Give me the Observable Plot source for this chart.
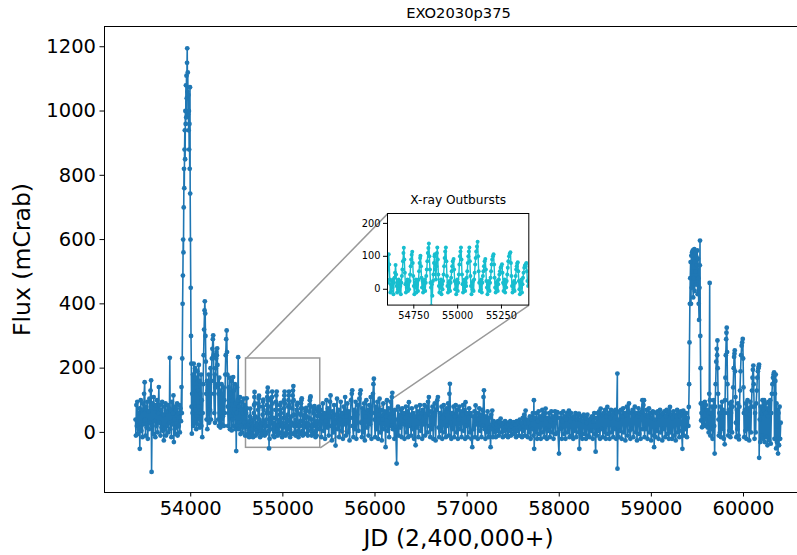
<!DOCTYPE html>
<html>
<head>
<meta charset="utf-8">
<script src="https://cdn.jsdelivr.net/npm/d3@7"></script>
<script src="https://cdn.jsdelivr.net/npm/@observablehq/plot@0.6"></script>
<style>
  html, body { margin: 0; padding: 0; background: #fff; overflow: hidden; }
  #chart { position: relative; width: 797px; height: 555px; overflow: hidden; }
  #chart svg { position: absolute; max-width: none; }
</style>
</head>
<body>
<div id="chart"></div>
<script>
// Text
const title = "EXO2030p375";
const insetTitle = "X-ray Outbursts";
const xLabel = "JD (2,400,000+)";
const yLabel = "Flux (mCrab)";

// Tick values
const xTicks = [54000, 55000, 56000, 57000, 58000, 59000, 60000];
const yTicks = [0, 200, 400, 600, 800, 1000, 1200];
const insetXTicks = [54750, 55000, 55250];
const insetYTicks = [0, 100, 200];

// Zoomed window shown in the inset (JD, mCrab)
const zoomJD = [54600, 55406];
const zoomFlux = [-48, 230];

// Light curve, [JD - 2400000, flux in mCrab]
const quiescence2005 = [
  [53401,40],[53405,-10],[53410,85],[53415,20],[53420,95],[53426,-5],[53432,60],[53438,10],[53443,75],[53447,-51],
  [53452,30],[53458,100],[53464,5],[53470,70],[53476,-15],[53482,90],[53488,25],[53494,120],[53500,156],[53505,40],
  [53510,-10],[53516,80],[53522,15],[53528,95],[53534,-20],[53540,65],[53546,10],[53552,105],[53558,30],[53564,130],
  [53570,162],[53575,-123],[53580,20],[53586,90],[53592,-5],[53598,110],[53604,35],[53610,75],[53616,-15],[53622,85],
  [53628,20],[53634,100],[53640,0],[53646,60],[53654,141],[53660,30],[53666,85],[53672,-10],[53678,70],[53684,15],
  [53690,95],[53696,5],[53702,55],[53708,-25],[53714,80],[53720,10],[53726,90],[53732,-10],[53738,65],[53744,20],
  [53750,85],[53756,0],[53762,75],[53768,30],[53773,232],[53778,10],[53784,70],[53790,-15],[53796,95],[53802,25],
  [53808,60],[53812,115],[53817,-30],[53822,40],[53828,80],[53834,-5],[53840,70],[53846,15],[53852,90],[53858,-10],
  [53864,60],[53870,20],[53876,85],[53882,0],[53888,75],[53894,35]
];

const giantOutburst2006 = [
  [53900,141],[53904,60],[53908,230],[53912,400],[53915,488],[53918,600],[53921,560],[53924,700],[53927,820],[53930,760],
  [53933,880],[53936,940],[53939,850],[53942,1000],[53945,960],[53948,1080],[53951,980],[53954,1110],[53957,1040],[53960,1150],
  [53962,1195],[53965,1060],[53968,1120],[53971,990],[53974,1050],[53977,940],[53980,1000],[53983,880],[53986,960],[53989,820],
  [53992,1074],[53994,743],[53997,600],[54000,450],[54003,300],[54006,214],[54009,80],[54012,-4]
];

const decline2007 = [
  [54016,120],[54020,60],[54024,180],[54028,20],[54032,214],[54036,90],[54040,150],[54044,30],[54048,200],[54052,70],
  [54056,170],[54060,10],[54064,140],[54068,50],[54072,190],[54076,25],[54080,130],[54084,80],[54088,210],[54092,40],
  [54096,160],[54100,15],[54104,120],[54108,60],[54112,180],[54116,20],[54120,100],[54125,-15],[54130,60],[54135,150],
  [54140,240],[54145,320],[54150,380],[54153,408],[54157,370],[54160,300],[54164,220],[54168,120],[54172,40],[54176,160],
  [54180,10],[54185,130],[54190,60],[54195,180],[54200,30],[54205,150],[54210,70],[54215,200],[54220,40],[54225,160],
  [54230,230],[54235,260],[54240,290],[54244,302],[54248,240],[54252,120],[54256,60],[54260,180],[54264,30],[54268,140],
  [54272,200],[54276,230],[54280,250],[54284,240],[54287,261],[54290,210],[54294,150],[54298,40],[54302,120],[54306,20],
  [54310,170],[54314,60],[54318,130],[54322,15],[54326,110],[54330,40],[54335,150],[54340,25],[54345,120],[54350,50],
  [54355,140],[54360,20],[54365,100],[54370,60],[54375,180],[54380,240],[54385,290],[54390,317],[54394,250],[54398,180],
  [54402,80],[54406,20],[54410,140],[54415,60],[54420,170],[54425,10],[54430,120],[54435,50],[54440,160],[54445,6],
  [54450,100],[54455,40],[54460,172],[54465,20],[54470,130],[54475,70],[54480,150],[54485,10],[54490,90],[54494,-58],
  [54498,60],[54502,140],[54506,20],[54510,100],[54515,234],[54520,10],[54525,80],[54530,30],[54535,110],[54540,-5],
  [54545,70],[54550,20],[54555,95],[54560,0],[54565,60],[54570,15],[54575,105],[54580,30],[54585,85],[54590,-10],
  [54595,70]
];

const typeIOutbursts2008 = [
  [54600,20],[54603,60],[54607,106],[54610,75],[54613,30],[54616,-10],[54619,15],[54622,-5],[54625,25],[54628,5],
  [54631,30],[54634,-15],[54637,20],[54640,35],[54643,50],[54646,74],[54649,45],[54652,10],[54655,-10],[54658,20],
  [54661,0],[54664,30],[54667,-5],[54670,25],[54673,10],[54676,-15],[54679,20],[54682,40],[54685,60],[54688,85],
  [54691,110],[54693,126],[54696,90],[54699,50],[54702,15],[54705,-10],[54708,20],[54711,5],[54714,30],[54717,-5],
  [54720,20],[54723,0],[54726,25],[54729,45],[54732,70],[54735,90],[54738,105],[54741,114],[54744,80],[54747,40],
  [54750,10],[54753,-15],[54756,20],[54759,5],[54762,30],[54765,-10],[54768,15],[54771,25],[54774,-5],[54777,30],
  [54780,55],[54783,80],[54786,95],[54788,102],[54791,70],[54794,35],[54797,5],[54800,25],[54803,-10],[54806,20],
  [54809,0],[54812,30],[54815,-5],[54818,20],[54821,40],[54824,60],[54827,85],[54830,110],[54833,125],[54836,139],
  [54839,100],[54842,60],[54845,20],[54848,5],[54850,-50],[54853,15],[54856,-20],[54859,25],[54862,45],[54865,80],
  [54868,100],[54870,106],[54873,60],[54876,30],[54879,70],[54882,110],[54884,127],[54887,90],[54890,45],[54893,10],
  [54896,-10],[54899,20],[54902,5],[54905,30],[54908,-15],[54911,15],[54914,0],[54917,25],[54920,45],[54923,70],
  [54926,95],[54929,115],[54933,127],[54936,85],[54939,40],[54942,10],[54945,-10],[54948,20],[54951,0],[54954,25],
  [54957,-5],[54960,20],[54963,35],[54966,55],[54969,70],[54972,85],[54977,92],[54980,60],[54983,25],[54986,0],
  [54989,20],[54992,-15],[54995,15],[54998,30],[55001,-5],[55004,20],[55007,45],[55010,75],[55013,100],[55016,115],
  [55019,127],[55022,90],[55025,45],[55028,15],[55031,-10],[55034,20],[55037,0],[55040,30],[55043,-5],[55046,20],
  [55049,10],[55052,35],[55055,55],[55058,80],[55061,100],[55064,115],[55067,127],[55070,85],[55073,40],[55076,10],
  [55079,-15],[55082,20],[55085,0],[55088,25],[55091,-5],[55094,30],[55097,50],[55100,75],[55103,95],[55106,115],
  [55110,130],[55114,144],[55117,100],[55120,55],[55123,20],[55126,-5],[55129,25],[55132,0],[55135,30],[55138,-10],
  [55141,20],[55144,40],[55147,55],[55150,70],[55154,85],[55158,92],[55161,60],[55164,25],[55167,5],[55170,-15],
  [55173,20],[55176,0],[55179,25],[55182,-5],[55185,20],[55188,35],[55191,55],[55194,75],[55197,90],[55201,100],
  [55205,106],[55208,75],[55211,35],[55214,5],[55217,-10],[55220,20],[55223,0],[55226,25],[55229,-5],[55232,15],
  [55235,30],[55238,45],[55241,55],[55245,65],[55249,70],[55253,76],[55256,50],[55259,20],[55262,-5],[55265,15],
  [55268,30],[55271,-10],[55274,20],[55277,5],[55280,25],[55283,45],[55286,65],[55289,85],[55293,100],[55297,108],
  [55301,112],[55304,80],[55307,40],[55310,10],[55313,-10],[55316,20],[55319,0],[55322,25],[55325,-5],[55328,20],
  [55331,40],[55334,60],[55337,70],[55340,78],[55343,82],[55346,55],[55349,25],[55352,0],[55355,-15],[55358,20],
  [55361,5],[55364,30],[55367,-10],[55370,15],[55373,35],[55376,50],[55380,65],[55384,72],[55388,76],[55392,80],
  [55395,55],[55398,25]
];

const activity2010 = [
  [55402,10],[55410,70],[55418,-15],[55426,45],[55434,90],[55442,5],[55450,60],[55458,-20],[55466,35],[55474,100],
  [55482,15],[55490,75],[55498,-10],[55506,50],[55512,95],[55518,115],[55524,20],[55532,-25],[55540,65],[55548,0],
  [55556,85],[55564,30],[55572,-41],[55580,55],[55588,105],[55596,10],[55604,70],[55612,-15],[55620,40],[55628,95],
  [55636,5],[55644,60],[55652,-20],[55660,80],[55668,25],[55676,110],[55684,-10],[55692,50],[55700,90],[55708,0],
  [55716,65],[55724,-25],[55732,45],[55740,100],[55748,120],[55753,131],[55758,20],[55766,-15],[55774,70],[55782,10],
  [55790,95],[55798,-20],[55806,55],[55814,85],[55822,5],[55830,105],[55838,120],[55844,131],[55850,30],[55858,-15],
  [55866,75],[55874,0],[55882,90],[55890,-25],[55898,50],[55906,100],[55914,15],[55922,70],[55930,-10],[55938,85],
  [55946,25],[55954,110],[55962,-20],[55970,60],[55978,120],[55983,150],[55988,167],[55994,40],[56002,-15],[56010,80],
  [56018,10],[56026,95],[56034,-20],[56042,55],[56050,105],[56058,0],[56066,70],[56074,-25],[56082,40],[56090,90],
  [56098,10],[56106,65],[56115,-46],[56122,50],[56130,100],[56138,5],[56146,75],[56154,-15],[56162,45],[56170,95],
  [56178,20],[56183,110],[56188,123],[56194,10],[56202,60],[56210,-20]
];

const activity2013 = [
  [56218,70],[56226,5],[56235,-97],[56242,40],[56250,80],[56258,-10],[56266,55],[56274,15],[56282,70],[56290,-15],
  [56296,75],[56304,25],[56312,60],[56320,-20],[56328,45],[56336,80],[56344,0],[56352,65],[56360,-15],[56368,94],
  [56376,20],[56384,55],[56392,-10],[56400,75],[56408,10],[56416,60],[56424,-20],[56432,50],[56441,-40],[56448,80],
  [56456,15],[56464,65],[56472,-15],[56480,45],[56488,85],[56496,5],[56504,60],[56512,-20],[56520,70],[56528,25],
  [56536,85],[56544,-10],[56552,50],[56560,80],[56568,0],[56576,95],[56585,110],[56592,20],[56600,-15],[56608,65],
  [56616,10],[56624,80],[56632,-20],[56640,55],[56648,90],[56658,-25],[56666,70],[56676,100],[56683,110],[56690,15],
  [56698,-15],[56706,60],[56714,5],[56722,80],[56730,-20],[56738,45],[56746,85],[56754,0],[56762,65],[56770,-15],
  [56778,75],[56786,20],[56794,90],[56802,-10],[56808,120],[56813,151],[56820,30],[56828,-20],[56836,60],[56844,10],
  [56852,80],[56860,-15],[56868,50],[56876,85],[56884,0],[56892,70],[56900,-20],[56908,40],[56916,80],[56924,10],
  [56932,65],[56940,-15],[56948,55],[56956,85],[56964,5],[56972,70],[56978,-20],[56983,94],[56990,20],
  [56998,60],[57006,-15],[57014,45],[57022,75],[57030,0],[57038,60],[57046,-20],[57056,-46],[57064,50],[57072,10],
  [57080,65],[57086,-15],[57092,84],[57100,25],[57108,60],[57116,-20],[57124,40],[57132,75],[57140,5],[57148,55],
  [57156,-15],[57164,70],[57172,20],[57178,110],[57183,131],[57190,10],[57198,-20],[57206,50],[57214,0],[57222,65],
  [57230,-15],[57238,45],[57246,15],[57255,-46],[57262,55],[57268,10],[57273,68],[57280,-15]
];

const lowState2016 = [
  [57288,35],[57296,0],[57304,30],[57312,-15],[57320,25],[57328,5],[57336,35],[57344,-10],[57352,20],[57358,30],
  [57364,43],[57372,0],[57380,25],[57388,-15],[57396,30],[57404,5],[57412,35],[57420,-10],[57428,20],[57436,30],
  [57444,-15],[57452,25],[57460,5],[57468,35],[57476,-10],[57484,20],[57492,30],[57500,-5],[57508,32],[57516,0],
  [57524,25],[57532,-15],[57540,35],[57548,5],[57556,30],[57564,-10],[57572,40],[57580,10],[57588,30],[57596,-15],
  [57604,45],[57612,5],[57620,55],[57628,-10],[57635,68],[57642,15],[57650,40],[57658,-15],[57666,30],[57674,0],
  [57682,50],[57690,-20],[57698,40],[57706,10],[57714,60]
];

const activity2017 = [
  [57720,-10],[57725,100],[57728,-51],[57736,45],[57744,0],[57752,60],[57760,-20],[57768,35],[57776,65],[57784,-5],
  [57792,50],[57800,-20],[57808,40],[57816,70],[57824,0],[57832,55],[57840,-15],[57846,60],[57852,74],[57858,10],
  [57866,-20],[57874,45],[57882,5],[57890,60],[57898,-15],[57906,35],[57914,65],[57922,0],[57930,50],[57938,-20],
  [57946,40],[57954,65],[57962,-5],[57970,55],[57979,63],[57986,0],[57997,-66],[58004,45],[58012,10],[58020,60],
  [58028,-20],[58036,35],[58044,65],[58052,-5],[58060,50],[58068,-20],[58076,40],[58084,60],[58092,0],[58100,55],
  [58105,68],[58112,-15],[58120,35],[58128,60],[58136,-10],[58144,45],[58152,-20],[58160,50],[58168,5],[58176,60],
  [58184,-15],[58192,40],[58200,55],[58208,0],[58214,58],[58218,-51],[58226,40],[58234,-10],[58242,50],[58250,-20],
  [58258,35],[58266,55],[58274,-5],[58282,45],[58290,-20],[58298,30],[58306,55],[58314,-10],[58322,40],[58330,-15],
  [58341,43],[58348,5],[58356,50],[58364,-20],[58372,35],[58380,60],[58388,-5],[58395,-60],[58402,45]
];

const activity2019 = [
  [58410,-10],[58418,60],[58426,5],[58434,65],[58442,-20],[58450,74],[58458,10],[58466,55],[58474,-15],[58482,60],
  [58490,0],[58498,70],[58506,-20],[58514,50],[58522,79],[58530,-5],[58538,60],[58546,-20],[58554,45],[58562,70],
  [58570,0],[58578,55],[58586,-15],[58594,65],[58602,10],[58610,70],[58618,-20],[58624,60],[58631,183],[58632,-113],
  [58638,40],[58646,-15],[58654,65],[58662,5],[58670,70],[58678,-20],[58686,50],[58694,75],[58702,0],[58710,60],
  [58718,-25],[58726,55],[58734,80],[58742,-10],[58750,65],[58757,90],[58764,5],[58772,-20],[58780,60],[58788,10],
  [58796,70],[58804,-15],[58812,55],[58820,80],[58828,0],[58836,60],[58844,-25],[58852,50],[58860,75],[58868,-5],
  [58876,60],[58884,-20],[58892,65],[58902,100],[58908,10],[58914,85],[58920,100],[58926,-15],[58934,55],[58942,10],
  [58950,70],[58958,-20],[58966,50],[58974,75],[58982,0],[58990,60],[58998,-25],[59006,45],[59014,65],[59022,-10],
  [59028,63],[59030,-46],[59038,40],[59046,-15],[59054,60],[59062,5],[59070,65],[59078,-20],[59086,50],[59094,70],
  [59102,0],[59110,55],[59118,-25],[59126,60],[59134,10],[59142,65],[59150,-15],[59158,50],[59166,70],[59174,-5],
  [59182,60],[59190,-20],[59196,65],[59202,79],[59208,0],[59216,55],[59224,-20],[59232,45],[59240,65],[59248,-10],
  [59256,55],[59264,-25],[59272,50],[59280,70],[59288,0],[59296,60],[59304,-15],[59312,50],[59320,65],[59328,5],
  [59337,-51],[59342,55],[59347,68],[59354,-10],[59362,50],[59370,10],[59378,60],[59386,-15],[59394,45],[59402,20]
];

const giantOutburst2021 = [
  [59406,79],[59410,150],[59414,280],[59418,400],[59422,480],[59426,530],[59430,400],[59434,550],[59438,450],[59442,560],
  [59446,500],[59450,566],[59454,420],[59458,550],[59462,480],[59466,570],[59470,440],[59474,555],[59478,500],[59482,560],
  [59486,460],[59490,545],[59494,520],[59498,566],[59502,430],[59506,540],[59510,480],[59514,400],[59518,350],[59522,450],
  [59526,520],[59528,597],[59531,300],[59534,200],[59537,90],[59540,37]
];

const decline2022 = [
  [59544,60],[59550,16],[59556,90],[59562,30],[59568,80],[59574,20],[59580,95],[59586,40],[59592,85],[59598,25],
  [59604,70],[59610,15],[59616,60],[59622,0],[59628,120],[59633,465],[59636,100],[59640,-10],[59646,60],[59652,10],
  [59658,80],[59664,-20],[59670,50],[59676,100],[59682,20],[59687,-66],[59692,80],[59698,150],[59704,220],[59710,260],
  [59714,240],[59717,286],[59720,200],[59724,120],[59728,40],[59732,-10],[59738,60],[59744,0],[59750,80],[59756,-15],
  [59762,50],[59768,95],[59774,10],[59780,70],[59786,-20],[59792,60],[59796,-37],[59800,100],[59804,170],[59808,240],
  [59812,290],[59815,310],[59818,326],[59822,250],[59826,150],[59830,60],[59834,-10],[59840,70],[59846,5],[59852,90],
  [59858,-15],[59864,60],[59870,95],[59876,0],[59882,80],[59888,140],[59894,200],[59898,235],[59902,245],[59905,255],
  [59909,190],[59913,110],[59917,30],[59922,-15],[59928,70],[59934,10],[59940,90],[59946,-10],[59951,-22],[59956,80],
  [59962,130],[59968,190],[59974,240],[59980,270],[59986,280],[59992,291],[59996,230],[60000,140],[60004,60],[60008,-15],
  [60014,70],[60020,5],[60026,90],[60032,-20],[60038,60],[60044,100],[60050,10],[60056,75],[60062,-25],[60068,55],
  [60074,95],[60080,0],[60086,80],[60092,130],[60098,170],[60102,195],[60107,208],[60111,150],[60115,80],[60120,-20],
  [60126,60],[60132,0],[60138,90],[60144,130],[60150,170],[60156,190],[60162,200],[60166,205],[60169,211],[60170,-79],
  [60176,40],[60182,-30],[60188,80],[60194,-10],[60200,60],[60206,100],[60212,-20],[60218,70],[60224,100],[60230,-30],
  [60236,60],[60242,90],[60248,-15],[60254,75],[60260,-40],[60266,50],[60272,95],[60278,-25],[60284,70],[60290,100],
  [60296,-35],[60302,60],[60308,120],[60314,150],[60320,170],[60326,180],[60332,187],[60336,-20],[60341,120],[60346,160],
  [60350,180],[60354,-50],[60358,90],[60362,-30],[60366,70],[60370,20],[60375,-66],[60380,60],[60386,-40],[60392,80],
  [60398,-20],[60404,30]
];

// Where the inset axes sit, expressed in the main axes' JD / flux units
const insetBoxJD = [56136, 57670];
const insetBoxFlux = [395, 680];

const blue = "#1f77b4";
const cyan = "#17becf";
const guideGray = "#999999";
const font = "'DejaVu Sans', sans-serif";

const rows = [
  ...quiescence2005, ...giantOutburst2006, ...decline2007, ...typeIOutbursts2008,
  ...activity2010, ...activity2013, ...lowState2016, ...activity2017, ...activity2019,
  ...giantOutburst2021, ...decline2022
].map(([jd, flux]) => ({jd, flux}));

const zoomRect = [{x1: zoomJD[0], x2: zoomJD[1], y1: zoomFlux[0], y2: zoomFlux[1]}];
const connectors = [
  {x1: zoomJD[0], y1: zoomFlux[1], x2: insetBoxJD[0], y2: insetBoxFlux[1]},
  {x1: zoomJD[1], y1: zoomFlux[0], x2: insetBoxJD[1], y2: insetBoxFlux[0]}
];

const main = Plot.plot({
  width: 797,
  height: 555,
  marginLeft: 104,
  marginRight: -15,
  marginTop: 26,
  marginBottom: 63,
  style: {fontFamily: font, fontSize: "19.5px", color: "black", background: "white", overflow: "visible"},
  x: {domain: [53064, 60749]},
  y: {domain: [-187, 1263]},
  marks: [
    Plot.rect(zoomRect, {x1: "x1", x2: "x2", y1: "y1", y2: "y2", fill: "none", stroke: guideGray, strokeWidth: 1.5}),
    Plot.link(connectors, {x1: "x1", y1: "y1", x2: "x2", y2: "y2", stroke: guideGray, strokeWidth: 1.5}),
    Plot.line(rows, {x: "jd", y: "flux", stroke: blue, strokeWidth: 1.6}),
    Plot.dot(rows, {x: "jd", y: "flux", r: 2.4, fill: blue, stroke: "none"}),
    Plot.frame({stroke: "black", strokeWidth: 1}),
    Plot.axisX({ticks: xTicks, tickFormat: "d", tickSize: 4.5, tickPadding: 4, label: null, stroke: "black"}),
    Plot.axisY({ticks: yTicks, tickFormat: "d", tickSize: 4.5, tickPadding: 4, label: null, stroke: "black"}),
    Plot.text([title], {text: d => d, frameAnchor: "top", textAnchor: "middle", lineAnchor: "middle",
      dy: -13, fontSize: 14.7, fill: "black"}),
    Plot.text([xLabel], {text: d => d, frameAnchor: "bottom", textAnchor: "middle", lineAnchor: "middle",
      dy: 46, fontSize: 23.5, fill: "black"}),
    Plot.text([yLabel], {text: d => d, frameAnchor: "left", textAnchor: "middle", lineAnchor: "middle",
      dx: -82, rotate: -90, fontSize: 23.5, fill: "black"})
  ]
});

const chart = document.getElementById("chart");
main.style.left = "0px";
main.style.top = "0px";
chart.appendChild(main);

// Inset axes placed from the main scales
const sx = main.scale("x");
const sy = main.scale("y");
const frameLeft = sx.apply(insetBoxJD[0]);
const frameRight = sx.apply(insetBoxJD[1]);
const frameTop = sy.apply(insetBoxFlux[1]);
const frameBottom = sy.apply(insetBoxFlux[0]);
const im = {left: 34, right: 10, top: 26, bottom: 22};

const insetRows = rows.filter(d => d.jd >= zoomJD[0] - 10 && d.jd <= zoomJD[1] + 10);

const inset = Plot.plot({
  width: frameRight - frameLeft + im.left + im.right,
  height: frameBottom - frameTop + im.top + im.bottom,
  marginLeft: im.left,
  marginRight: im.right,
  marginTop: im.top,
  marginBottom: im.bottom,
  style: {fontFamily: font, fontSize: "9.8px", color: "black", background: "transparent", overflow: "visible"},
  x: {domain: zoomJD},
  y: {domain: zoomFlux},
  marks: [
    Plot.frame({fill: "white", stroke: "none"}),
    Plot.line(insetRows, {x: "jd", y: "flux", stroke: cyan, strokeWidth: 1.4, clip: true}),
    Plot.dot(insetRows, {x: "jd", y: "flux", r: 2, fill: cyan, stroke: "none", clip: true}),
    Plot.frame({stroke: "black", strokeWidth: 1}),
    Plot.axisX({ticks: insetXTicks, tickFormat: "d", tickSize: 4, tickPadding: 3, label: null, stroke: "black"}),
    Plot.axisY({ticks: insetYTicks, tickFormat: "d", tickSize: 4, tickPadding: 3, label: null, stroke: "black"}),
    Plot.text([insetTitle], {text: d => d, frameAnchor: "top", textAnchor: "middle", lineAnchor: "middle",
      dy: -13, fontSize: 12.2, fill: "black"})
  ]
});
inset.style.left = (frameLeft - im.left) + "px";
inset.style.top = (frameTop - im.top) + "px";
chart.appendChild(inset);
</script>
</body>
</html>
